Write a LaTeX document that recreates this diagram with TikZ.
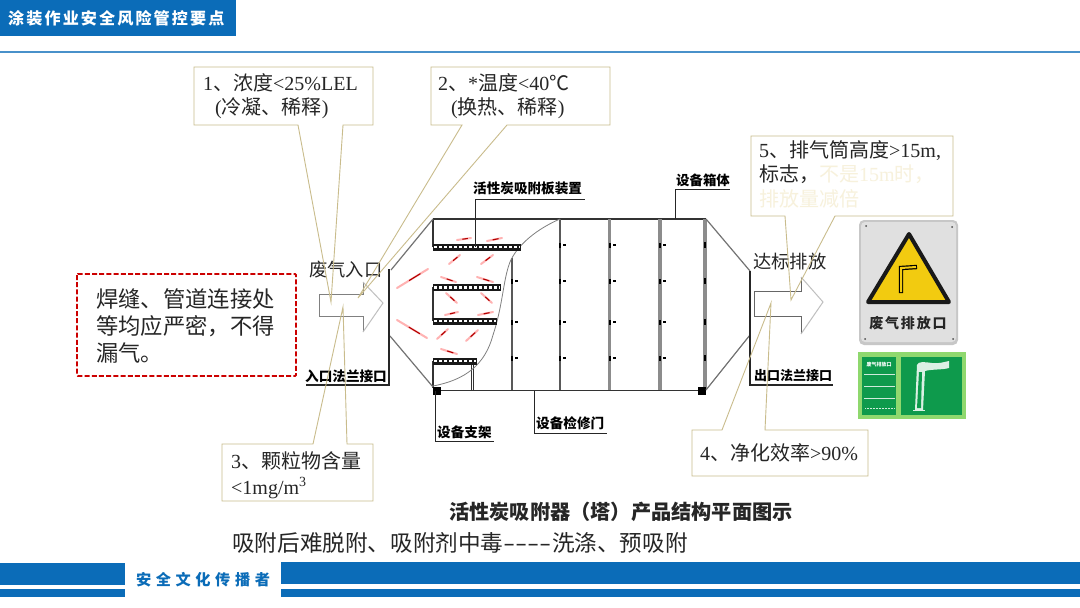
\documentclass[tikz,border=0pt]{standalone}
\usepackage{fontspec}
\setmainfont{Liberation Serif}
\newfontfamily\cjkfont{Noto Sans CJK SC}
\newfontfamily\cjkspaced[LetterSpace=13]{Noto Sans CJK SC}
\newfontfamily\cjkwide[LetterSpace=30]{Noto Sans CJK SC}
\newcommand{\zh}[1]{{\cjkfont #1}}
\newcommand{\fsz}[2]{\fontsize{#1}{#2}\selectfont}
\definecolor{hdrblue}{HTML}{0B6CB8}
\definecolor{rulegold}{HTML}{C9BC8C}
\definecolor{fadetxt}{HTML}{F7F1DC}
\definecolor{txtgray}{HTML}{262626}
\definecolor{wallgray}{HTML}{8C8C8C}
\definecolor{signgreen}{HTML}{0E9A4C}
\definecolor{signlight}{HTML}{8FD86E}
\definecolor{signyellow}{HTML}{F2CB10}
\tikzset{
  callout/.style={draw=rulegold,line width=0.9pt,line join=miter},
  calltext/.style={inner sep=0pt,anchor=north west,align=left,text=txtgray,font=\fsz{20}{24.5}},
  partlabel/.style={inner sep=0pt,anchor=west,text=black,font=\cjkfont\bfseries\fsz{13.6}{15}},
  biglabel/.style={inner sep=0pt,anchor=west,text=txtgray,font=\cjkfont\fsz{18.3}{20}},
  leader/.style={draw=black!85,line width=1pt},
  frame/.style={draw=black!80,line width=1.3pt},
  wall/.style={draw=wallgray,line width=2pt},
  hood/.style={draw=black!55,line width=1.2pt},
  flow/.style={line join=miter,line width=1pt},
  leafpale/.style={draw=red!30,line width=2pt,line cap=round},
  leafdark/.style={draw=red!70!black,line width=1.1pt,line cap=round},
  doormark/.style={fill=black,draw=none},
}
\newcommand{\plate}[3]{% x1,x2,y
  \draw[black!90,line width=7pt] (#1,#3) -- (#2,#3);
  \draw[white,line width=2.6pt,dash pattern=on 3pt off 2pt] (#1+1,#3) -- (#2-1,#3);
}
\begin{document}
\begin{tikzpicture}[x=1pt,y=-1pt]
\useasboundingbox (0,0) rectangle (1080,608);
\fill[white] (0,0) rectangle (1080,608);

% header
\fill[hdrblue] (0,0) rectangle (236,36);
\draw[draw=hdrblue!75!white,line width=1.1pt] (0,52) -- (1080,52);
\node[inner sep=0pt,anchor=west,text=white,font=\cjkspaced\bfseries\fsz{16.1}{18}] (title) at (8,18.5) {涂装作业安全风险管控要点};

% footer
\fill[hdrblue] (0,563) rectangle (125,585);
\fill[hdrblue] (0,589) rectangle (125,597);
\fill[hdrblue] (281,562) rectangle (1080,584);
\fill[hdrblue] (281,589) rectangle (1080,597);
\node[inner sep=0pt,anchor=west,text=hdrblue,font=\cjkwide\bfseries\fsz{15.2}{17}] (foot) at (136,579.5) {安全文化传播者};

% body of the tower
\draw[frame] (433,219) -- (706,219);
\draw[frame,line width=1.8pt] (433,390.5) -- (702,390.5);
\draw[frame] (433,219) -- (433,247);
\draw[frame] (433,287) -- (433,321);
\draw[frame] (433,361) -- (433,388);
\draw[wall,draw=black!65] (512,258) -- (512,390);
\draw[wall,draw=black!65] (560,219) -- (560,390);
\draw[wall,line width=2.4pt] (609.5,219) -- (609.5,390);
\draw[wall,line width=3.4pt] (660,219) -- (660,390);
\draw[wall,line width=3.6pt] (705,219) -- (705,390);
\draw[frame,line width=1pt] (471,364) -- (471,390);
\draw[frame,line width=1pt] (473.5,364) -- (473.5,390);
\draw[black!50,line width=0.8pt] (560,219) .. controls (530,232) and (515,250) .. (510,262)
  .. controls (503,280) and (503,305) .. (493,335) .. controls (485,365) and (465,380) .. (433,386);
\plate{433}{521}{247}
\plate{433}{501}{287.5}
\plate{433}{497}{321}
\plate{433}{477}{361}
\fill[black] (433,387) rectangle (441,395);
\fill[black] (698,387) rectangle (706,395);

% door marks
\foreach \yy in {281,322,358}{
  \fill[doormark] (511,\yy-2.5) rectangle (513,\yy+2.5);
  \fill[doormark] (515,\yy-1.2) rectangle (518,\yy+1.2);
}
\foreach \xx in {560,609.5,660}{
  \foreach \yy in {245,281,322,358}{
    \fill[doormark] (\xx-1,\yy-2.5) rectangle (\xx+1,\yy+2.5);
    \fill[doormark] (\xx+3,\yy-1.2) rectangle (\xx+6,\yy+1.2);
  }
}
\foreach \yy in {245,281,322,358}{
  \fill[doormark] (704,\yy-3) rectangle (706,\yy+3);
}

% hoods and flanges
\draw[hood] (391,270) -- (433,219);
\draw[hood] (390,336) -- (433,387);
\draw[hood] (706,219) -- (750,271);
\draw[hood] (706,390) -- (750,335);

% airflow marks
\foreach \xa/\ya/\xb/\yb in {397/288/428/269,397/320/427/338,457/240/471/238,487/241/502/238,449/264/460/255,481/264/493/255,441/277/456/282,477/277/493/282,446/293/457/303,481/293/492/303,445/315/458/312,478/315/493/312,437/339/448/329,466/341/478/330,441/349/457/354}{
  \draw[leafpale] (\xa,\ya) -- (\xb,\yb);
  \draw[leafdark] ({\xa+0.4*(\xb-\xa)},{\ya+0.4*(\yb-\ya)}) -- ({\xa+0.75*(\xb-\xa)},{\ya+0.75*(\yb-\ya)});
}

% part labels and leaders
\node[partlabel] (plabel) at (473,188) {活性炭吸附板装置};
\coordinate (plateend) at (475,247);
\coordinate (plateline) at (585,199);
\draw[leader] (plateend) |- (plateline);
\node[partlabel,font=\cjkfont\bfseries\fsz{13.4}{15}] (boxlabel) at (676,180) {设备箱体};
\coordinate (boxend) at (675,219);
\coordinate (boxline) at (730,189);
\draw[leader] (boxend) |- (boxline);
\node[partlabel] (legend) at (437,432) {设备支架};
\coordinate (legtop) at (435,391);
\coordinate (legline) at (494,441);
\draw[leader] (legtop) |- (legline);
\node[partlabel] (doorlabel) at (536,423) {设备检修门};
\coordinate (doortop) at (534,391);
\coordinate (doorline) at (607,433);
\draw[leader] (doortop) |- (doorline);
\node[partlabel] (inflange) at (305,376) {入口法兰接口};
\coordinate (intop) at (389,269);
\coordinate (inline) at (306,385);
\draw[leader,line width=1.3pt] (intop) |- (inline);
\node[partlabel,font=\cjkfont\bfseries\fsz{13}{15}] (outflange) at (754,376) {出口法兰接口};
\coordinate (outtop) at (750,271);
\coordinate (outline) at (833,385);
\draw[leader,line width=1.3pt] (outtop) |- (outline);
\node[biglabel] (inlabel) at (309,270) {废气入口};
\node[biglabel] (outlabel) at (753,262) {达标排放};

% flow arrows
\draw[flow,black!50] (363,282) -- (363,294) -- (319,294) -- (319,316) -- (363,316) -- (363,332);
\draw[flow,black!25] (363,282) -- (383,303) -- (363,332);
\draw[flow,black!60] (801,277) -- (801,291) -- (754,291) -- (754,316) -- (801,316) -- (801,334);
\draw[flow,black!25] (801,277) -- (823,302) -- (801,334);

% callouts
\draw[callout] (194,67) -- (373,67) -- (373,125) -- (343,125) -- (331,302) -- (298,125) -- (194,125) -- cycle;
\node[calltext] (c1) at (203,73) {1\zh{、浓度}<25\%LEL\\[0pt]\hspace*{12pt}(\zh{冷凝、稀释})};
\draw[callout] (431,67) -- (610,67) -- (610,125) -- (507,125) -- (358,298) -- (462,125) -- (431,125) -- cycle;
\node[calltext] (c2) at (438,73) {2\zh{、}*\zh{温度}<40\zh{℃}\\[0pt]\hspace*{13pt}(\zh{换热、稀释})};
\draw[callout] (222,444) -- (313,444) -- (343,307) -- (347,444) -- (373,444) -- (373,501) -- (222,501) -- cycle;
\node[calltext,font=\fsz{20}{26}] (c3) at (231,451) {3\zh{、颗粒物含量}\\[0pt]<1mg/m\textsuperscript{3}};
\draw[callout] (692,430) -- (722,430) -- (771,303) -- (765,430) -- (868,430) -- (868,476) -- (692,476) -- cycle;
\node[calltext] (c4) at (700,443) {4\zh{、净化效率}>90\%};
\draw[callout] (751,136) -- (953,136) -- (953,216) -- (835,216) -- (791,300) -- (785,216) -- (751,216) -- cycle;
\node[calltext] (c5) at (759,140) {5\zh{、排气筒高度}>15m,\\[0pt]\zh{标志，}\textcolor{fadetxt}{\zh{不是}15m\zh{时，}}\\[0pt]\textcolor{fadetxt}{\zh{排放量减倍}}};

% red note
\draw[draw=red!80!black,line width=1.9pt,dash pattern=on 5pt off 2.2pt,rounded corners=1pt] (77,274) rectangle (296,376);
\node[inner sep=0pt,anchor=north west,align=left,text=txtgray,font=\cjkfont\fsz{22.3}{27}] (note) at (96,288) {焊缝、管道连接处\\等均应严密，不得\\漏气。};

% captions
\node[inner sep=0pt,anchor=west,text=txtgray,font=\cjkfont\bfseries\fsz{20.2}{22}] (caption) at (449,512) {活性炭吸附器（塔）产品结构平面图示};
\node[inner sep=0pt,anchor=west,text=txtgray,font=\cjkfont\fsz{22.6}{25}] (remark) at (232,543) {吸附后难脱附、吸附剂中毒\scalebox{1.55}[1]{-}\scalebox{1.55}[1]{-}\scalebox{1.55}[1]{-}\scalebox{1.55}[1]{-}洗涤、预吸附};

% warning sign
\fill[black!22,rounded corners=5pt] (859,220) rectangle (958,345);
\fill[black!12,rounded corners=4pt] (861,222) rectangle (956,342);
\foreach \sx/\sy in {866/226,952/227,865/339,953/339}{\fill[black!70] (\sx,\sy) circle (1pt);}
\path[fill=signyellow,draw=black!90,line width=4pt,line join=round] (909,234) -- (868,302) -- (949,302) -- cycle;
\draw[black,line width=4.4pt,line join=miter] (901,293) -- (901,268) -- (917,267);
\draw[signyellow,line width=2pt,line join=miter] (901,292) -- (901,268) -- (916,267);
\node[inner sep=0pt,text=black!85,font=\cjkspaced\bfseries\fsz{14}{16}] (signtext) at (908,323) {废气排放口};

% green sign
\fill[signlight] (858,352) rectangle (966,419);
\fill[signgreen] (862,357) rectangle (896,415);
\fill[signgreen] (901,357) rectangle (962,415);
\node[inner sep=0pt,text=white,font=\cjkfont\bfseries\fsz{5}{6}] (greentext) at (879,365) {废气排放口};
\foreach \yy in {374,386,398}{\draw[white!80!signgreen,line width=0.5pt] (864,\yy) -- (895,\yy);}
\draw[white!80!signgreen,line width=1pt,dash pattern=on 1pt off 0.5pt] (865,408) -- (895,408);
\fill[white!85!signgreen] (915,410) -- (917,365) .. controls (918,361) and (925,362) .. (932,363) .. controls (938,364) and (944,362) .. (949,361) -- (949,368) .. controls (942,370) and (932,369) .. (925,371) -- (923,410) -- cycle;
\fill[signgreen] (917,408) -- (919,372) -- (922,372) -- (921,408) -- cycle;
\draw[white!85!signgreen,line width=1.2pt] (913,410.5) -- (925,410.5);
\end{tikzpicture}
\end{document}
